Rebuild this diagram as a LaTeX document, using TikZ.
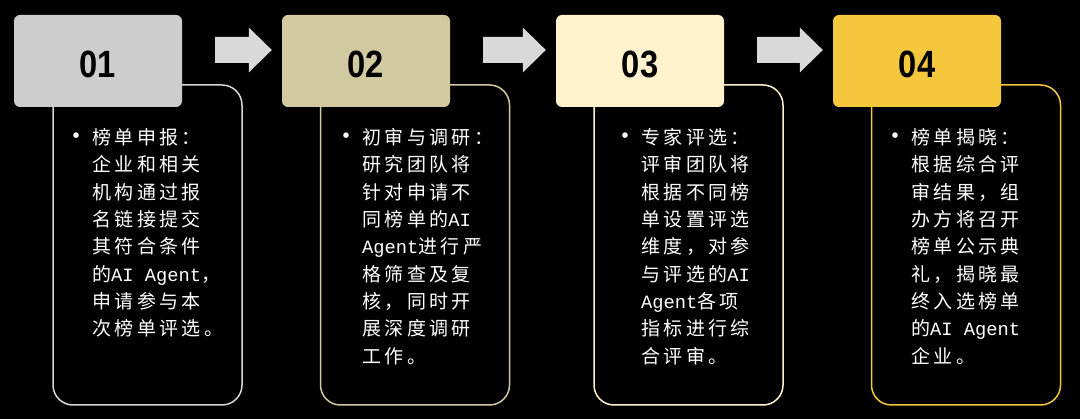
\documentclass[tikz,border=0pt]{standalone}
\usepackage{fontspec}
\usetikzlibrary{calc}
\newfontfamily\cjkfont{Noto Sans CJK SC}[LetterSpace=18]
\newfontfamily\latfont{Liberation Mono}
\newfontfamily\numfont{Liberation Sans}[FakeStretch=0.86]
\newcommand{\lat}[1]{{\latfont\fontsize{18.75pt}{27.3pt}\selectfont #1}}
\newcommand{\firstline}{\rule{0pt}{20pt}\llap{\makebox[29pt][l]{\raisebox{-1pt}{\fontsize{26pt}{26pt}\selectfont •}}}}
\definecolor{hdrA}{RGB}{205,205,205}
\definecolor{hdrB}{RGB}{209,201,160}
\definecolor{hdrC}{RGB}{255,242,204}
\definecolor{hdrD}{RGB}{245,199,60}
\definecolor{lineA}{RGB}{215,215,215}
\definecolor{arrowgray}{RGB}{217,217,217}
\begin{document}
\begin{tikzpicture}[x=1pt,y=-1pt,
  hdr/.style={rectangle, rounded corners=6pt, minimum width=168pt, minimum height=92pt,
    inner sep=0pt, text=black, text height=33pt, text depth=0pt,
    font=\numfont\bfseries\fontsize{38pt}{38pt}\selectfont},
  bodybox/.style={rectangle, rounded corners=20pt, minimum width=189pt, minimum height=320pt,
    fill=black, line width=1.5pt},
  bodytext/.style={anchor=north west, inner sep=0pt, align=left, text=white,
    font=\cjkfont\fontsize{19pt}{27.3pt}\selectfont},
  blockarrow/.style={fill=arrowgray}]
\useasboundingbox (0,0) rectangle (1080,419);
\fill[black] (0,0) rectangle (1080,419);

% body boxes
\node[bodybox, draw=lineA] (b1) at (147.5,245) {};
\node[bodybox, draw=hdrB]  (b2) at (415,245) {};
\node[bodybox, draw=hdrC]  (b3) at (688.5,245) {};
\node[bodybox, draw=hdrD]  (b4) at (966,245) {};

% headers
\node[hdr, fill=hdrA] (h1) at (98,61) {01};
\node[hdr, fill=hdrB] (h2) at (366,61) {02};
\node[hdr, fill=hdrC] (h3) at (640,61) {03};
\node[hdr, fill=hdrD] (h4) at (917,61) {04};

% texts
\node[bodytext] (t1) at (92,124.5) {\firstline 榜单申报：\\企业和相关\\机构通过报\\名链接提交\\其符合条件\\的\lat{AI Agent}，\\申请参与本\\次榜单评选。};
\node[bodytext] (t2) at (362,124.5) {\firstline 初审与调研：\\研究团队将\\针对申请不\\同榜单的\lat{AI}\\\lat{Agent}进行严\\格筛查及复\\核，同时开\\展深度调研\\工作。};
\node[bodytext] (t3) at (641,124.5) {\firstline 专家评选：\\评审团队将\\根据不同榜\\单设置评选\\维度，对参\\与评选的\lat{AI}\\\lat{Agent}各项\\指标进行综\\合评审。};
\node[bodytext] (t4) at (911,124.5) {\firstline 榜单揭晓：\\根据综合评\\审结果，组\\办方将召开\\榜单公示典\\礼，揭晓最\\终入选榜单\\的\lat{AI Agent}\\企业。};

% block arrows between headers
\foreach \a/\b in {h1/h2, h2/h3, h3/h4}{
  \coordinate (s) at ($(\a.east)+(33,-11)$);
  \coordinate (e) at ($(\b.west)+(-10,-11)$);
  \fill[blockarrow] ($(s)+(0,-13)$) -| ($(e)+(-23,-22.5)$) -- (e)
     -- ($(e)+(-23,22.5)$) |- ($(s)+(0,13)$) -- cycle;
}
\end{tikzpicture}
\end{document}
